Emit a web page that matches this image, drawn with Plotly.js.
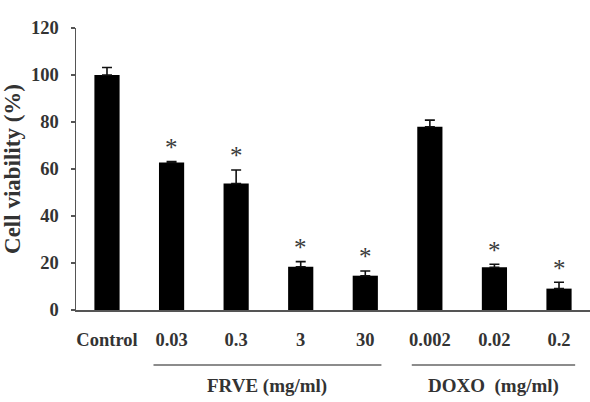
<!DOCTYPE html>
<html>
<head>
<meta charset="utf-8">
<script src="https://cdn.plot.ly/plotly-3.0.1.min.js"></script>
<style>html,body{margin:0;padding:0;background:#fff;}#chart{width:590px;height:402px;}</style>
</head>
<body>
<div id="chart"></div>
<script>
// Data
const categories = ['Control', '0.03', '0.3', '3', '30', '0.002', '0.02', '0.2'];
const viability = [100, 62.8, 53.8, 18.4, 14.6, 78, 18.2, 9.1];
const errorUp = [3.2, 0.4, 5.8, 2.2, 2.0, 2.8, 1.3, 2.7];
const significance = ['', '*', '*', '*', '*', '', '*', '*'];
const yTicks = [0, 20, 40, 60, 80, 100, 120];
const groupLabels = ['FRVE (mg/ml)', 'DOXO\u00a0 (mg/ml)'];
const groupFirst = [1, 5];
const groupLast = [4, 7];

const serif = 'Liberation Serif, Times New Roman, serif';
const textColor = '#333';
const xIdx = categories.map((c, i) => i);

const trace = {
  type: 'bar',
  x: xIdx,
  y: viability,
  width: 0.39,
  marker: {color: '#000', line: {width: 0}},
  error_y: {type: 'data', array: errorUp, arrayminus: errorUp.map(() => 0), symmetric: false,
            color: '#111', thickness: 1.6, width: 5},
  hoverinfo: 'none'
};

const annotations = [];
xIdx.forEach(i => {
  if (significance[i]) {
    annotations.push({x: i, y: viability[i] + errorUp[i], xref: 'x', yref: 'y',
      text: significance[i], showarrow: false, yanchor: 'middle', yshift: 14,
      font: {family: serif, size: 25, color: '#3a3a3a'}});
  }
});
const shapes = [];
groupLabels.forEach((g, k) => {
  const x0 = groupFirst[k] - 0.28, x1 = groupLast[k] + 0.25;
  shapes.push({type: 'line', xref: 'x', yref: 'paper', x0: x0, x1: x1, y0: -0.195, y1: -0.195,
               line: {color: '#666', width: 1.5}});
  annotations.push({x: (x0 + x1) / 2, y: -0.27, xref: 'x', yref: 'paper', text: '<b>' + g + '</b>',
    showarrow: false, yanchor: 'middle', xanchor: 'center',
    font: {family: serif, size: 19, color: textColor}});
});

const layout = {
  width: 590, height: 402,
  margin: {l: 76, r: 0, t: 28, b: 92},
  paper_bgcolor: '#fff', plot_bgcolor: '#fff',
  showlegend: false,
  xaxis: {
    range: [-0.48, 7.48],
    tickmode: 'array', tickvals: xIdx, ticktext: categories.map(c => '<b>' + c + '</b>'),
    ticks: '', showgrid: false, zeroline: false,
    showline: true, linecolor: '#555', linewidth: 1.5,
    tickfont: {family: serif, size: 18.5, color: textColor},
    ticklabelstandoff: 12
  },
  yaxis: {
    range: [0, 120],
    tickmode: 'array', tickvals: yTicks, ticktext: yTicks.map(v => '<b>' + v + '</b>'),
    ticks: 'outside', ticklen: 4, tickwidth: 1.2, tickcolor: '#555',
    showgrid: false, zeroline: false,
    showline: true, linecolor: '#555', linewidth: 1.5,
    tickfont: {family: serif, size: 18.5, color: textColor},
    ticklabelstandoff: 8,
    title: {text: '<b>Cell viability (%)</b>', font: {family: serif, size: 23, color: textColor}, standoff: 8}
  },
  shapes: shapes,
  annotations: annotations
};

Plotly.newPlot('chart', [trace], layout, {staticPlot: true, displayModeBar: false});
</script>
</body>
</html>
